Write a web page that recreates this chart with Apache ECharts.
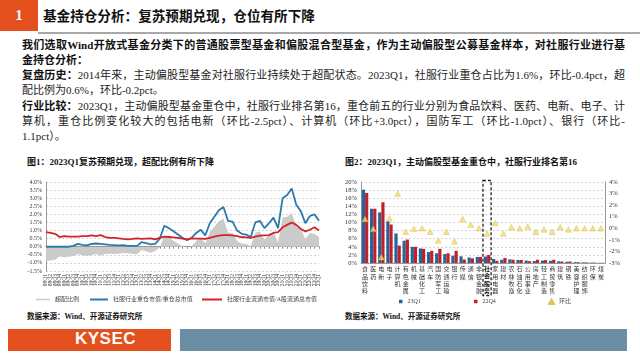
<!DOCTYPE html>
<html><head><meta charset="utf-8">
<script src="https://cdn.jsdelivr.net/npm/echarts@6/dist/echarts.min.js"></script>
<style>
body{margin:0;width:640px;height:360px;overflow:hidden;background:#fff;font-family:"Liberation Serif","Noto Sans CJK SC",serif;position:relative}
.abs{position:absolute;white-space:nowrap}
.ln{position:absolute;left:22px;width:603px;height:15px;line-height:15px;font-size:11px;color:#222;white-space:nowrap}
.j{text-align:justify;text-align-last:justify;white-space:normal;overflow:hidden}
b{font-weight:bold;color:#111}
</style></head><body>
<div class="abs" style="left:0;top:0;width:38px;height:31px;background:#e4501d;color:#fff;font:bold 15px 'Liberation Serif';text-align:center;line-height:31px">1</div>
<div class="abs" style="left:43px;top:5px;font:bold 13.6px 'Noto Sans CJK SC';color:#111;line-height:20px">基金持仓分析：复苏预期兑现，仓位有所下降</div>
<div class="abs" style="left:38px;top:32px;width:602px;height:2px;background:#a8a8a8"></div>

<div class="ln j" style="top:38px;font-weight:bold;color:#111">我们选取Wind开放式基金分类下的普通股票型基金和偏股混合型基金，作为主动偏股型公募基金样本，对社服行业进行基</div>
<div class="ln" style="top:53px;font-weight:bold;color:#111">金持仓分析：</div>
<div class="ln j" style="top:68px"><b>复盘历史：</b>2014年来，主动偏股型基金对社服行业持续处于超配状态。2023Q1，社服行业重仓占比为1.6%，环比-0.4pct，超</div>
<div class="ln" style="top:83px">配比例为0.6%，环比-0.2pct。</div>
<div class="ln j" style="top:99px"><b>行业比较：</b>2023Q1，主动偏股型基金重仓中，社服行业排名第16，重仓前五的行业分别为食品饮料、医药、电新、电子、计</div>
<div class="ln j" style="top:114px">算机，重仓比例变化较大的包括电新（环比-2.5pct）、计算机（环比+3.0pct），国防军工（环比-1.0pct）、银行（环比-</div>
<div class="ln" style="top:129px">1.1pct）。</div>

<div class="abs" style="left:27px;top:156px;font-size:9px;font-weight:bold;color:#111;line-height:12px">图1：2023Q1复苏预期兑现，超配比例有所下降</div>
<div class="abs" style="left:345px;top:156px;font-size:9px;font-weight:bold;color:#111;line-height:12px">图2：2023Q1，主动偏股型基金重仓中，社服行业排名第16</div>
<div class="abs" style="left:27px;top:312px;font-size:7.5px;font-weight:bold;color:#111;line-height:10px">数据来源：Wind、开源证券研究所</div>
<div class="abs" style="left:345px;top:312px;font-size:7.5px;font-weight:bold;color:#111;line-height:10px">数据来源：Wind、开源证券研究所</div>

<div class="abs" style="left:8px;top:329px;width:163px;height:22px;background:#e4501d"></div>
<div class="abs" style="left:75px;top:329px;height:22px;line-height:23px;font:bold 17px 'Liberation Sans';color:#fff;letter-spacing:0.5px">KYSEC</div>
<div class="abs" style="left:180px;top:329px;width:447px;height:22px;background:#6b8ea4"></div>

<div id="c" style="position:absolute;left:0;top:0;width:640px;height:360px"></div>
<script>
const quarters = ['08Q1','08Q2','08Q3','08Q4','09Q1','09Q2','09Q3','09Q4','10Q1','10Q2','10Q3','10Q4','11Q1','11Q2','11Q3','11Q4','12Q1','12Q2','12Q3','12Q4','13Q1','13Q2','13Q3','13Q4','14Q1','14Q2','14Q3','14Q4','15Q1','15Q2','15Q3','15Q4','16Q1','16Q2','16Q3','16Q4','17Q1','17Q2','17Q3','17Q4','18Q1','18Q2','18Q3','18Q4','19Q1','19Q2','19Q3','19Q4','20Q1','20Q2','20Q3','20Q4','21Q1','21Q2','21Q3','21Q4','22Q1','22Q2','22Q3','22Q4','23Q1'];
const overweight = [-0.9,-0.85,-0.8,-0.6,-0.65,-0.62,-0.57,-0.45,-0.53,-0.57,-0.52,-0.45,-0.54,-0.45,-0.43,-0.45,-0.44,-0.38,-0.4,-0.43,-0.47,-0.2,-0.28,-0.37,-0.27,-0.05,0.68,0.55,0.37,0.2,0.05,-0.05,0.03,0.35,0.55,0.22,0.9,1.23,1.57,1.73,0.88,0.85,0.34,0.2,0.17,0.05,0.88,0.92,0.45,0.73,0.95,0.25,1.8,1.85,2.1,1.25,1.1,0.5,0.85,0.8,0.6];
const holdShare = [0,0,0,0,0,0,0.05,0.18,0.12,0.08,0.18,0.2,0.18,0.15,0.12,0.1,0.08,0.1,0.05,0.05,0.05,0.28,0.22,0.15,0.18,0.5,1.3,1.15,0.95,0.75,0.55,0.4,0.55,0.85,1.05,0.7,1.45,1.85,2.25,2.45,1.6,1.55,1.0,0.8,0.75,0.6,1.5,1.6,1.15,1.45,1.8,1.15,3.0,3.2,3.6,2.6,2.2,1.45,1.9,2.0,1.6];
const floatShare = [0.9,0.85,0.8,0.6,0.65,0.62,0.62,0.63,0.65,0.65,0.7,0.65,0.72,0.6,0.55,0.55,0.52,0.48,0.45,0.48,0.52,0.48,0.5,0.52,0.45,0.55,0.62,0.6,0.58,0.55,0.5,0.45,0.52,0.5,0.5,0.48,0.55,0.62,0.68,0.72,0.72,0.7,0.66,0.6,0.58,0.55,0.62,0.68,0.7,0.72,0.85,0.9,1.2,1.35,1.5,1.35,1.1,0.95,1.05,1.2,1.0];
const pctTicks1 = {min:-1.5, max:4, step:0.5};

const industries = ['食品饮料','医药','电新','电子','计算机','有色金属','机械','基础化工','汽车','国防军工','交通运输','银行','传媒','通信','非银金融','社会服务','家用电器','建材','农林牧渔','石油石化','公用事业','房地产','轻工制造','商贸零售','建筑','钢铁','美容护理','纺织服饰','环保','煤炭'];
const q23Q1 = [18.1,13.4,12.5,10.3,7.3,5.5,4.0,3.6,2.7,2.4,2.2,1.8,1.65,1.35,1.5,1.6,1.0,0.8,0.9,0.75,0.6,0.5,0.6,0.55,0.4,0.3,0.2,0.15,0.1,0.05];
const q22Q4 = [17.3,13.4,15.0,9.5,4.3,5.8,4.0,3.5,3.0,3.5,2.4,3.0,0.85,1.15,1.5,2.0,0.55,1.25,0.8,0.75,0.45,0.8,0.7,0.8,0.35,0.35,0.2,0.15,0.1,0.05];
const qoq = [0.8,-0.05,-2.5,0.85,3.0,-0.3,-0.05,0.0,-0.3,-1.05,-0.3,-1.15,0.8,0.3,0.0,-0.45,0.45,-0.45,0.1,0.0,0.15,-0.3,-0.1,-0.3,0.1,-0.1,0.0,0.0,0.0,0.0];
const highlightIndex = 15;

const FONT = '"Liberation Serif","Noto Sans CJK SC",serif';
const chart = echarts.init(document.getElementById('c'), null, {renderer:'canvas'});
const lab = {fontFamily: FONT, color:'#333'};
const legTxt = {fontFamily: FONT, fontSize:6, color:'#444'};

chart.setOption({
  animation:false,
  grid:[
    {left:46, right:321, top:182, bottom:89, outerBoundsMode:'none'},
    {left:361, right:35, top:182, bottom:97, outerBoundsMode:'none'}
  ],
  legend:[
    {data:['超配比例'], left:36, top:296.5, padding:0, itemWidth:14, itemHeight:1.5, icon:'rect', itemGap:0, textStyle:legTxt},
    {data:['社服行业重仓市值/重仓总市值'], left:90, top:296.5, padding:0, itemWidth:18, itemHeight:2, icon:'rect', textStyle:legTxt},
    {data:['社服行业流通市值/A股流通总市值'], left:202, top:296.5, padding:0, itemWidth:20, itemHeight:2, icon:'rect', textStyle:legTxt},
    {data:['23Q1'], left:399, top:298.5, padding:0, itemWidth:3.5, itemHeight:3.5, icon:'rect', textStyle:legTxt},
    {data:['22Q4'], left:474, top:298.5, padding:0, itemWidth:3.5, itemHeight:3.5, icon:'rect', textStyle:legTxt},
    {data:['环比'], left:548, top:298.5, padding:0, itemWidth:5, itemHeight:4.5, icon:'triangle', textStyle:legTxt}
  ],
  xAxis:[
    {gridIndex:0, type:'category', data:quarters, boundaryGap:false, position:'bottom',
     axisLine:{show:false, onZero:false}, axisTick:{show:false},
     axisLabel:Object.assign({interval:0, rotate:90, fontSize:5.5, margin:3}, lab), splitLine:{show:false}},
    {gridIndex:0, type:'category', data:quarters, boundaryGap:false, position:'bottom',
     axisLine:{show:true, onZero:true, lineStyle:{color:'#888', width:1}}, axisTick:{show:true, interval:0, length:2, lineStyle:{color:'#888'}},
     axisLabel:{show:false}, splitLine:{show:false}},
    {gridIndex:1, type:'category', data:industries, boundaryGap:true,
     axisLine:{show:true, lineStyle:{color:'#999'}}, axisTick:{show:false},
     axisLabel:Object.assign({interval:0, fontSize:6, lineHeight:7.3, margin:3, verticalAlign:'top',
       formatter:function(v, i){ const ch = v.split(''); return i===highlightIndex ? ch.map(c=>'{b|'+c+'}').join('\n') : ch.join('\n'); },
       rich:{b:{fontWeight:'bold', fontSize:6, lineHeight:7.3, color:'#111', fontFamily:FONT}}}, lab)}
  ],
  yAxis:[
    {gridIndex:0, type:'value', min:pctTicks1.min, max:pctTicks1.max, interval:pctTicks1.step,
     axisLine:{show:true, lineStyle:{color:'#999'}}, axisTick:{show:false},
     axisLabel:Object.assign({fontSize:6, margin:4, formatter:v=>v.toFixed(1)+'%'}, lab),
     splitLine:{show:true, lineStyle:{color:'#c8c8c8', type:[2,2], width:0.8}}},
    {gridIndex:1, type:'value', min:0, max:20, interval:2, position:'left',
     axisLine:{show:true, lineStyle:{color:'#999'}}, axisTick:{show:false},
     axisLabel:Object.assign({fontSize:6.5, margin:4, formatter:v=>v+'%'}, lab),
     splitLine:{show:true, lineStyle:{color:'#c8c8c8', type:[2,2], width:0.8}}},
    {gridIndex:1, type:'value', min:-3, max:4, interval:1, position:'right',
     axisLine:{show:true, lineStyle:{color:'#999'}}, axisTick:{show:false},
     axisLabel:Object.assign({fontSize:6.5, margin:4, formatter:v=>v+'%'}, lab),
     splitLine:{show:false}}
  ],
  series:[
    {name:'超配比例', type:'line', xAxisIndex:0, yAxisIndex:0, data:overweight, symbol:'none', color:'#cbcbcb',
     lineStyle:{width:0}, areaStyle:{color:'#cbcbcb', opacity:1, origin:0}, z:1},
    {name:'社服行业重仓市值/重仓总市值', type:'line', xAxisIndex:0, yAxisIndex:0, data:holdShare, symbol:'none', color:'#2b79ad',
     lineStyle:{width:1.8, color:'#2b79ad'}, z:3},
    {name:'社服行业流通市值/A股流通总市值', type:'line', xAxisIndex:0, yAxisIndex:0, data:floatShare, symbol:'none', color:'#d3222a',
     lineStyle:{width:1.8, color:'#d3222a'}, z:4},
    {name:'23Q1', type:'bar', xAxisIndex:2, yAxisIndex:1, data:q23Q1, color:'#22679c', barWidth:3.2, barGap:'0%'},
    {name:'22Q4', type:'bar', xAxisIndex:2, yAxisIndex:1, data:q22Q4, color:'#c21f2b', barWidth:3.2, barGap:'0%'},
    {name:'环比', type:'scatter', xAxisIndex:2, yAxisIndex:2, data:qoq, symbol:'triangle', symbolSize:[6,5.5],
     color:'#f3dc6c', itemStyle:{color:'#f3dc6c', borderColor:'#d8b73c', borderWidth:0.5}, z:5}
  ]
});

// dashed highlight box around 社会服务, positioned through the chart's own scales
const cx = chart.convertToPixel({xAxisIndex:2}, industries[highlightIndex]);
const band = chart.convertToPixel({xAxisIndex:2}, industries[1]) - chart.convertToPixel({xAxisIndex:2}, industries[0]);
const yTop = chart.convertToPixel({yAxisIndex:1}, 20);
const yZero = chart.convertToPixel({yAxisIndex:1}, 0);
chart.setOption({graphic:[{type:'rect', z:100, silent:true,
  shape:{x:cx-band/2, y:yTop-1.5, width:band, height:(yZero-yTop)+34},
  style:{fill:'none', stroke:'#222', lineWidth:1.3, lineDash:[3,2]}}]});
</script>
</body></html>
